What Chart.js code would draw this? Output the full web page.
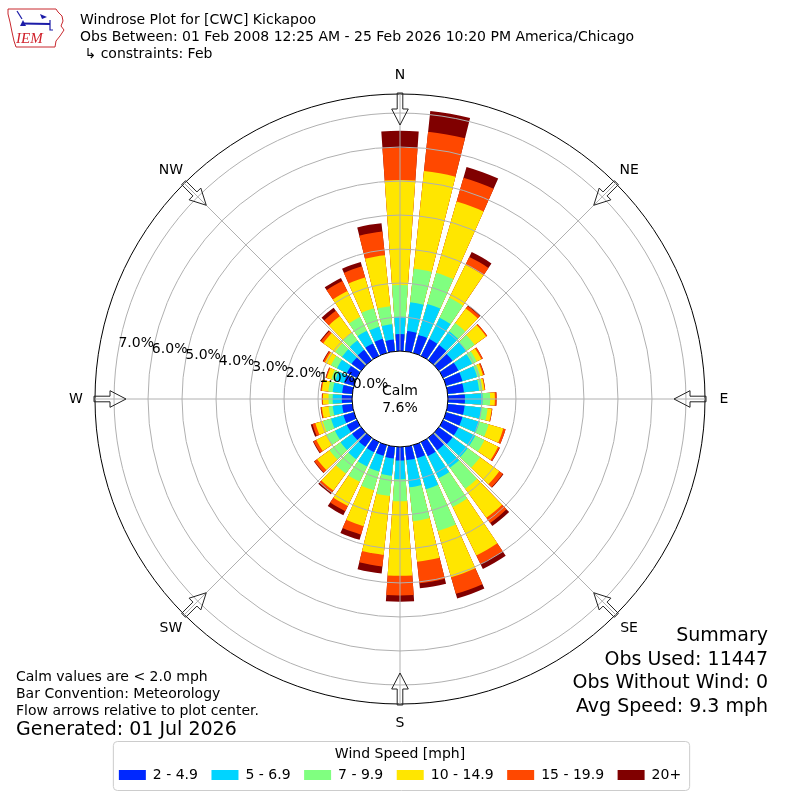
<!DOCTYPE html>
<html>
<head>
<meta charset="utf-8">
<script src="https://cdn.jsdelivr.net/npm/chart.js@4.4.1/dist/chart.umd.min.js"></script>
<style>
html,body{margin:0;padding:0;background:#fff;}
canvas{display:block;}
</style>
</head>
<body>
<canvas id="c" width="800" height="800" style="width:800px;height:800px"></canvas>
<script>
// ---------------- data (percent of observations) ----------------
const DIRECTIONS = [0,10,20,30,40,50,60,70,80,90,100,110,120,130,140,150,160,170,
                    180,190,200,210,220,230,240,250,260,270,280,290,300,310,320,330,340,350];
const SPEED_BINS = ['2 - 4.9','5 - 6.9','7 - 9.9','10 - 14.9','15 - 19.9','20+'];

const SPD_2_5   = [0.50,0.60,0.55,0.55,0.55,0.50,0.50,0.50,0.48,0.50,0.50,0.50,0.50,0.50,0.45,0.46,0.40,0.40,
                   0.40,0.35,0.33,0.33,0.33,0.33,0.33,0.32,0.30,0.30,0.30,0.30,0.33,0.35,0.38,0.41,0.43,0.35];
const SPD_5_7   = [0.51,0.85,0.95,0.70,0.50,0.50,0.45,0.45,0.45,0.52,0.50,0.52,0.55,0.55,0.64,0.72,0.95,0.80,
                   0.55,0.51,0.48,0.47,0.45,0.42,0.39,0.38,0.28,0.27,0.28,0.27,0.32,0.35,0.34,0.41,0.37,0.45];
const SPD_7_10  = [0.93,0.99,0.95,0.65,0.30,0.30,0.15,0.10,0.10,0.22,0.18,0.28,0.30,0.45,0.76,0.94,1.28,1.00,
                   0.65,0.60,0.57,0.50,0.52,0.40,0.28,0.25,0.12,0.12,0.13,0.12,0.20,0.25,0.28,0.45,0.57,0.53];
const SPD_10_15 = [3.09,2.89,2.18,1.08,0.53,0.42,0.15,0.08,0.06,0.14,0.12,0.45,0.45,0.70,1.06,1.59,1.41,1.20,
                   2.19,1.74,1.10,0.79,0.62,0.45,0.33,0.23,0.20,0.17,0.19,0.14,0.20,0.43,0.60,0.85,0.94,1.51];
const SPD_15_20 = [0.95,1.16,0.73,0.26,0.09,0.04,0.05,0.04,0.02,0.05,0.02,0.07,0.05,0.13,0.19,0.28,0.51,0.64,
                   0.58,0.34,0.26,0.17,0.08,0.10,0.09,0.09,0.03,0.02,0.03,0.03,0.05,0.09,0.20,0.33,0.34,0.70];
const SPD_20P   = [0.50,0.62,0.33,0.16,0.03,0.00,0.00,0.01,0.00,0.00,0.00,0.00,0.01,0.02,0.11,0.16,0.14,0.15,
                   0.18,0.21,0.16,0.13,0.05,0.02,0.02,0.05,0.01,0.01,0.01,0.01,0.02,0.03,0.11,0.10,0.13,0.25];

const CALM_PCT = 7.6;
const RING_TICKS = [0,1,2,3,4,5,6,7];
const R_MIN = -1.41;   // radial value at the plot centre (calm hole)
const R_MAX = 7.56;    // radial value at the outer rim
const COMPASS = ['N','NE','E','SE','S','SW','W','NW'];

const TITLE_LINES = ['Windrose Plot for [CWC] Kickapoo',
                     'Obs Between: 01 Feb 2008 12:25 AM - 25 Feb 2026 10:20 PM America/Chicago',
                     ' \u21B3 constraints: Feb'];
const NOTES = ['Calm values are < 2.0 mph','Bar Convention: Meteorology','Flow arrows relative to plot center.'];
const GENERATED = 'Generated: 01 Jul 2026';
const OBS_USED = 11447, OBS_NO_WIND = 0, AVG_SPEED = 9.3;
const SUMMARY = ['Summary','Obs Used: ' + OBS_USED,'Obs Without Wind: ' + OBS_NO_WIND,'Avg Speed: ' + AVG_SPEED + ' mph'];

// ---------------- styling ----------------
const BIN_VALUES = [SPD_2_5, SPD_5_7, SPD_7_10, SPD_10_15, SPD_15_20, SPD_20P];
const BIN_COLORS = ['#0028ff','#00d4ff','#80ff80','#ffe600','#ff4800','#800000'];
const BAR_DEG = 8, GAP_DEG = 2;
const FONT = '"DejaVu Sans", sans-serif';

Chart.defaults.font.family = FONT;
Chart.defaults.color = '#000';

// stacked bars: each dataset holds the running total, drawn back-to-front
const labels = [];
DIRECTIONS.forEach(d => labels.push(d + '\u00B0', ''));
const running = DIRECTIONS.map(() => 0);
const datasets = BIN_VALUES.map((vals, k) => {
  const data = [];
  DIRECTIONS.forEach((d, i) => { running[i] += vals[i]; data.push(+running[i].toFixed(3), 0); });
  return {
    label: SPEED_BINS[k],
    data,
    backgroundColor: c => (c.dataIndex % 2 ? 'rgba(0,0,0,0)' : BIN_COLORS[k]),
    borderWidth: 0,
    angle: c => (c.dataIndex % 2 ? GAP_DEG : BAR_DEG)
  };
});

const decor = {
  id: 'decor',
  afterDraw(chart) {
    const ctx = chart.ctx, s = chart.scales.r;
    const cx = s.xCenter, cy = s.yCenter, R = s.drawingArea;
    const r0 = s.getDistanceFromCenterForValue(0);
    const pt = (b, r) => [cx + r * Math.sin(b * Math.PI / 180), cy - r * Math.cos(b * Math.PI / 180)];
    ctx.save();

    // spokes
    ctx.strokeStyle = '#b0b0b0'; ctx.lineWidth = 1;
    COMPASS.forEach((n, i) => {
      const a = pt(i * 45, r0), z = pt(i * 45, R);
      ctx.beginPath(); ctx.moveTo(a[0], a[1]); ctx.lineTo(z[0], z[1]); ctx.stroke();
    });

    // calm disc
    ctx.beginPath(); ctx.arc(cx, cy, r0, 0, Math.PI * 2);
    ctx.fillStyle = '#fff'; ctx.fill();
    ctx.strokeStyle = '#000'; ctx.lineWidth = 1; ctx.stroke();
    ctx.fillStyle = '#000'; ctx.font = '14px ' + FONT;
    ctx.textAlign = 'center'; ctx.textBaseline = 'middle';
    ctx.fillText('Calm', cx, cy - 8);
    ctx.fillText(CALM_PCT.toFixed(1) + '%', cx, cy + 9);

    // ring labels
    ctx.font = '14px ' + FONT; ctx.textAlign = 'left'; ctx.textBaseline = 'bottom';
    RING_TICKS.forEach(v => {
      const p = pt(280, s.getDistanceFromCenterForValue(v));
      ctx.fillText(v.toFixed(1) + '%', p[0], p[1] + 1);
    });

    // flow arrows + compass labels
    ctx.strokeStyle = '#222'; ctx.lineWidth = 1;
    ctx.textAlign = 'center'; ctx.textBaseline = 'middle'; ctx.font = '14px ' + FONT;
    COMPASS.forEach((n, i) => {
      const b = i * 45, t = b * Math.PI / 180;
      const ux = -Math.sin(t), uy = Math.cos(t), vx = Math.cos(t), vy = Math.sin(t);
      const o = pt(b, R + 1);
      const P = (d, w) => [o[0] + ux * d + vx * w, o[1] + uy * d + vy * w];
      const poly = [P(0, -2.8), P(16, -2.8), P(16, -8.3), P(32, 0), P(16, 8.3), P(16, 2.8), P(0, 2.8)];
      ctx.beginPath(); ctx.moveTo(poly[0][0], poly[0][1]);
      poly.slice(1).forEach(q => ctx.lineTo(q[0], q[1]));
      ctx.closePath(); ctx.stroke();
      const lp = pt(b, R + 19);
      ctx.fillText(n, lp[0], lp[1]);
    });

    // header
    ctx.textAlign = 'left'; ctx.textBaseline = 'alphabetic';
    ctx.font = '14px ' + FONT;
    TITLE_LINES.forEach((l, i) => ctx.fillText(l, 80, 24 + i * 16.8));
    // notes
    ctx.font = '14px ' + FONT;
    NOTES.forEach((l, i) => ctx.fillText(l, 16, 681 + i * 17));
    ctx.font = '19px ' + FONT;
    ctx.fillText(GENERATED, 16, 735);
    // summary
    ctx.textAlign = 'right';
    SUMMARY.forEach((l, i) => ctx.fillText(l, 768, 641 + i * 23.7));

    // legend frame
    const hb = chart.legend.legendHitBoxes;
    if (hb && hb.length) {
      const last = hb[hb.length - 1];
      const x1 = hb[0].left - 6, x2 = last.left + last.width + 8;
      const y1 = hb[0].top - 27, y2 = hb[0].top + 22;
      ctx.strokeStyle = '#cccccc'; ctx.lineWidth = 1;
      ctx.beginPath();
      if (ctx.roundRect) ctx.roundRect(x1 + 0.5, y1 + 0.5, x2 - x1, y2 - y1, 4); else ctx.rect(x1 + 0.5, y1 + 0.5, x2 - x1, y2 - y1);
      ctx.stroke();
    }

    // IEM logo (approximate)
    ctx.strokeStyle = '#c8282e'; ctx.lineWidth = 1;
    const iowa = [[8,9],[56,9],[58,12],[62,16],[63,21],[61,26],[64,30],[60,36],[56,41],[55,47],[16,47],[14,41],[12,32],[10,22],[8,14]];
    ctx.beginPath(); ctx.moveTo(iowa[0][0], iowa[0][1]);
    iowa.slice(1).forEach(q => ctx.lineTo(q[0], q[1]));
    ctx.closePath(); ctx.stroke();
    ctx.strokeStyle = '#1c1ca8'; ctx.fillStyle = '#1c1ca8'; ctx.lineWidth = 2;
    ctx.beginPath(); ctx.moveTo(22, 23.5); ctx.lineTo(50, 24); ctx.stroke();
    ctx.lineWidth = 1.2;
    ctx.beginPath(); ctx.moveTo(17, 11); ctx.lineTo(22, 19); ctx.stroke();
    ctx.beginPath(); ctx.moveTo(50, 20); ctx.lineTo(50, 30); ctx.lineTo(53, 30); ctx.stroke();
    ctx.beginPath(); ctx.moveTo(40, 14); ctx.lineTo(47, 17); ctx.lineTo(42, 19); ctx.closePath(); ctx.fill();
    ctx.beginPath(); ctx.moveTo(20, 26); ctx.lineTo(23, 20); ctx.lineTo(26, 26); ctx.closePath(); ctx.fill();
    ctx.fillStyle = '#d0202a'; ctx.font = 'italic 15px "Liberation Serif", serif';
    ctx.textAlign = 'left'; ctx.fillText('IEM', 16, 43);

    ctx.restore();
  }
};

new Chart(document.getElementById('c'), {
  type: 'polarArea',
  data: { labels, datasets },
  options: {
    responsive: false,
    animation: false,
    events: [],
    layout: { padding: { top: 94, bottom: 8, left: 0, right: 0 } },
    scales: {
      r: {
        min: R_MIN,
        max: R_MAX,
        startAngle: -BAR_DEG / 2,
        afterBuildTicks: sc => { sc.ticks = RING_TICKS.concat([R_MAX]).map(v => ({ value: v })); },
        ticks: { display: false },
        grid: {
          circular: true,
          z: 1,
          lineWidth: 1,
          color: c => {
            const v = c.tick ? c.tick.value : 0;
            if (v === R_MAX) return '#000000';
            return v > 0 ? '#b0b0b0' : 'rgba(0,0,0,0)';
          }
        },
        angleLines: { display: false },
        pointLabels: { display: false }
      }
    },
    plugins: {
      tooltip: { enabled: false },
      legend: {
        position: 'bottom',
        title: { display: true, text: 'Wind Speed [mph]', font: { size: 14 }, padding: { top: 43.5, bottom: -9.8 } },
        labels: {
          boxWidth: 27,
          boxHeight: 10,
          padding: 13.5,
          font: { size: 14 },
          generateLabels: chart => chart.data.datasets.map((ds, i) => ({
            text: ds.label, fillStyle: BIN_COLORS[i], strokeStyle: BIN_COLORS[i],
            lineWidth: 0, hidden: false, datasetIndex: i
          }))
        }
      }
    }
  },
  plugins: [decor]
});
</script>
</body>
</html>
